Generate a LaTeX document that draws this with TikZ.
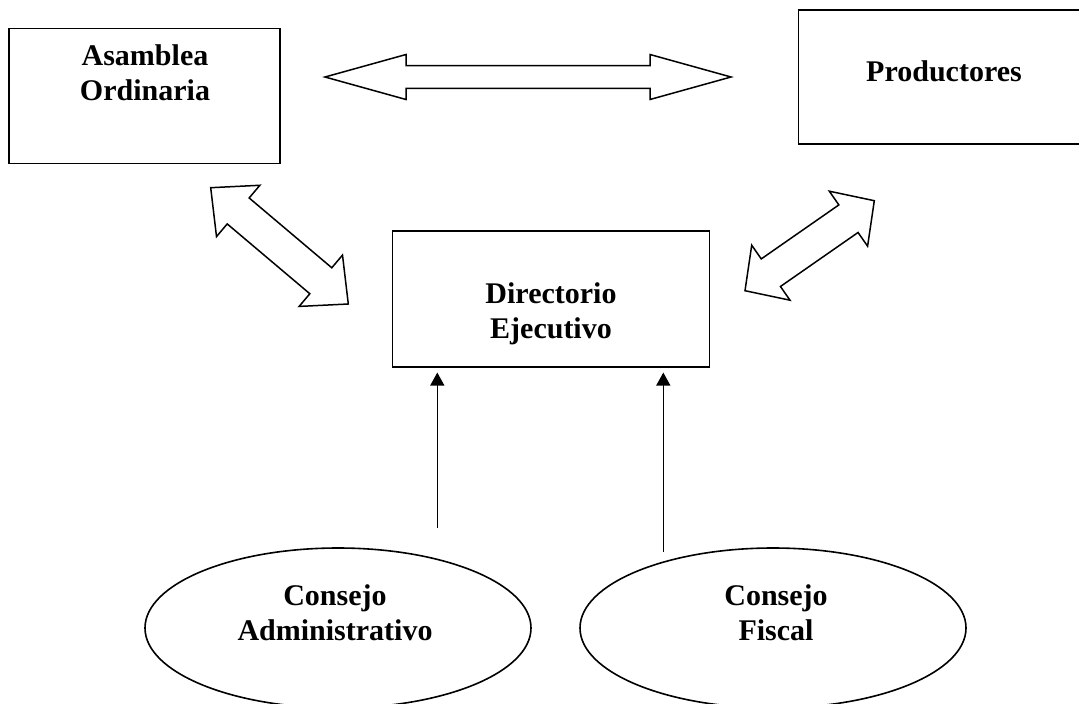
\documentclass[tikz,border=0pt]{standalone}
\usepackage{fontspec}
\setmainfont{Liberation Serif}
\usetikzlibrary{calc,shapes.geometric,arrows.meta}
\tikzset{
  boxnode/.style={draw,line width=1.6pt,rectangle,inner sep=0pt},
  ellnode/.style={draw,line width=1.6pt,ellipse,inner sep=0pt},
  lbl/.style={anchor=base,inner sep=0pt,font=\fontsize{30}{35}\selectfont\bfseries},
  blk/.style={draw,line width=1.5pt,line join=miter,fill=white},
  upar/.style={line width=1.4pt,-{Triangle[width=14pt,length=13pt]},shorten >=5pt}
}
\newcommand{\twoline}[2]{\begin{tabular}[t]{@{}c@{}}#1\\#2\end{tabular}}
\newcommand{\blockarrow}[5]{%
  \path ($(#1)!#3!(#2)$) coordinate (ba) ($(#2)!#3!(#1)$) coordinate (bb);
  \draw[blk] (#1) -- ($(ba)!#4!90:(#2)$) -- ($(ba)!#5!90:(#2)$)
    -- ($(bb)!#5!-90:(#1)$) -- ($(bb)!#4!-90:(#1)$) -- (#2)
    -- ($(bb)!#4!90:(#1)$) -- ($(bb)!#5!90:(#1)$)
    -- ($(ba)!#5!-90:(#2)$) -- ($(ba)!#4!-90:(#2)$) -- cycle;}
\begin{document}
\begin{tikzpicture}[x=1pt,y=-1pt]
\useasboundingbox (0,0) rectangle (1079,704);
\clip (0,0) rectangle (1079,704);
\fill[white] (0,0) rectangle (1079,704);
% boxes
\node[boxnode,minimum width=271pt,minimum height=135pt] (asm) at (144.5,95.8) {};
\node[boxnode,minimum width=292pt,minimum height=134pt] (prod) at (944.3,77) {};
\node[boxnode,minimum width=317pt,minimum height=135.7pt] (dir) at (550.8,298.9) {};
% ellipses
\node[ellnode,minimum width=386pt,minimum height=160pt] (ca) at (338,628) {};
\node[ellnode,minimum width=386pt,minimum height=160pt] (cf) at (773,628) {};
% texts
\node[lbl] (asmT) at (145,65) {\twoline{Asamblea}{Ordinaria}};
\node[lbl] (prodT) at (944,81.7) {Productores};
\node[lbl] (dirT) at (551,303) {\twoline{Directorio}{Ejecutivo}};
\node[lbl] (caT) at (335,605) {\twoline{Consejo}{Administrativo}};
\node[lbl] (cfT) at (776,605) {\twoline{Consejo}{Fiscal}};
% block double arrows
\coordinate (hA) at (325,77);
\coordinate (hB) at (731,77);
\blockarrow{hA}{hB}{81pt}{22.5pt}{11.3pt}
\coordinate (lA) at (210.7,187.7);
\coordinate (lB) at (348.3,304);
\blockarrow{lA}{lB}{36pt}{33.6pt}{17pt}
\coordinate (rA) at (874.3,200.7);
\coordinate (rB) at (745,290.7);
\blockarrow{rA}{rB}{31.5pt}{33.5pt}{16.8pt}
% vertical arrows
\coordinate (v1s) at (437.3,528);
\coordinate (v2s) at (663.3,551.7);
\draw[upar] (v1s) -- (v1s |- dir.south);
\draw[upar] (v2s) -- (v2s |- dir.south);
\end{tikzpicture}
\end{document}
